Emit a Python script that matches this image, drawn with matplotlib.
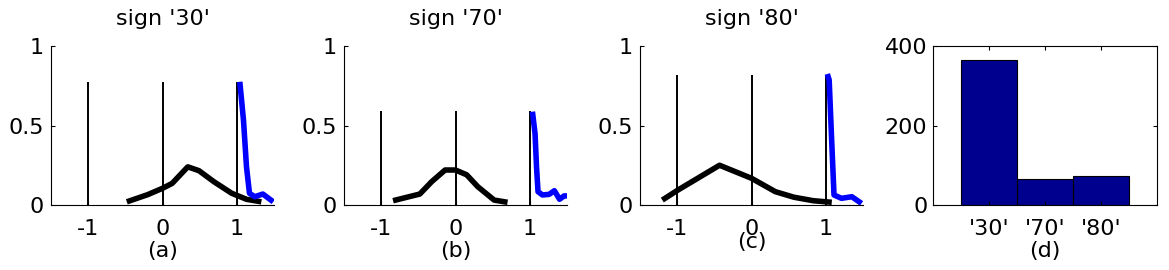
"""Sign distributions: three distance profiles plus a count bar chart."""

import matplotlib
matplotlib.use("Agg")
import matplotlib.pyplot as plt

plt.rcParams["font.family"] = ["DejaVu Sans"]

# --- data ------------------------------------------------------------------
signs = ["'30'", "'70'", "'80'"]
panel_tags = ["(a)", "(b)", "(c)"]

black_x = [
    [-0.48, -0.2, 0.0, 0.13, 0.34, 0.49, 0.69, 0.93, 1.13, 1.33],
    [-0.84, -0.48, -0.32, -0.14, 0.0, 0.15, 0.30, 0.52, 0.70],
    [-1.2, -0.99, -0.43, 0.0, 0.08, 0.32, 0.57, 0.83, 1.08],
]
black_y = [
    [0.02, 0.065, 0.105, 0.136, 0.24, 0.216, 0.147, 0.074, 0.036, 0.02],
    [0.027, 0.069, 0.147, 0.22, 0.22, 0.19, 0.115, 0.031, 0.017],
    [0.031, 0.094, 0.25, 0.168, 0.147, 0.084, 0.049, 0.027, 0.017],
]

blue_x = [
    [1.04, 1.09, 1.13, 1.17, 1.24, 1.35, 1.49],
    [1.035, 1.07, 1.09, 1.11, 1.17, 1.26, 1.33, 1.40, 1.46, 1.50],
    [1.02, 1.045, 1.08, 1.11, 1.21, 1.35, 1.48],
]
blue_y = [
    [0.775, 0.53, 0.24, 0.074, 0.052, 0.069, 0.02],
    [0.587, 0.45, 0.24, 0.084, 0.063, 0.067, 0.09, 0.036, 0.057, 0.057],
    [0.824, 0.786, 0.39, 0.063, 0.042, 0.052, 0.01],
]

marker_pos = [-1, 0, 1]
marker_height = [0.775, 0.59, 0.82]

counts = [366, 65, 72]

# --- layout -----------------------------------------------------------------
W, H = 1169, 270
FS = 16
fig = plt.figure(figsize=(W / 100, H / 100), dpi=100)


def px_axes(left, right, top=46, bottom=205):
    return fig.add_axes([left / W, (H - bottom) / H, (right - left) / W, (bottom - top) / H])


lefts = [51, 344, 640]
label_y = [-0.225, -0.225, -0.17]

for i in range(3):
    ax = px_axes(lefts[i], lefts[i] + 223)
    ax.vlines(marker_pos, 0, marker_height[i], color="black", linewidth=1.4)
    ax.plot(black_x[i], black_y[i], color="black", linewidth=4,
            solid_capstyle="butt")
    ax.plot(blue_x[i], blue_y[i], color="#0000ff", linewidth=4,
            solid_capstyle="butt")
    ax.set_xlim(-1.5, 1.5)
    ax.set_ylim(0, 1)
    ax.set_xticks([-1, 0, 1])
    ax.set_xticklabels(["-1", "0", "1"])
    ax.set_yticks([0, 0.5, 1])
    ax.set_yticklabels(["0", "0.5", "1"])
    ax.spines["top"].set_visible(False)
    ax.spines["right"].set_visible(False)
    ax.tick_params(direction="in", length=3, labelsize=FS, width=0.8)
    ax.tick_params(axis="x", pad=10)
    ax.tick_params(axis="y", pad=5)
    ax.set_title(f"sign {signs[i]}", fontsize=FS, pad=15)
    ax.set_xlabel(panel_tags[i], fontsize=FS)
    ax.xaxis.set_label_coords(0.5, label_y[i])

# count bars
ax = px_axes(933, 1157)
ax.bar([1, 2, 3], counts, width=1.0, color="#00008f", edgecolor="black", linewidth=0.8)
ax.set_xlim(0, 4)
ax.set_ylim(0, 400)
ax.set_xticks([1, 2, 3])
ax.set_xticklabels(signs)
ax.set_yticks([0, 200, 400])
ax.tick_params(direction="in", length=3, labelsize=FS, width=0.8,
               top=True, right=True)
ax.tick_params(axis="x", pad=10)
ax.tick_params(axis="y", pad=4)
ax.set_xlabel("(d)", fontsize=FS)
ax.xaxis.set_label_coords(0.5, -0.225)

fig.savefig("out.png", dpi=100)
